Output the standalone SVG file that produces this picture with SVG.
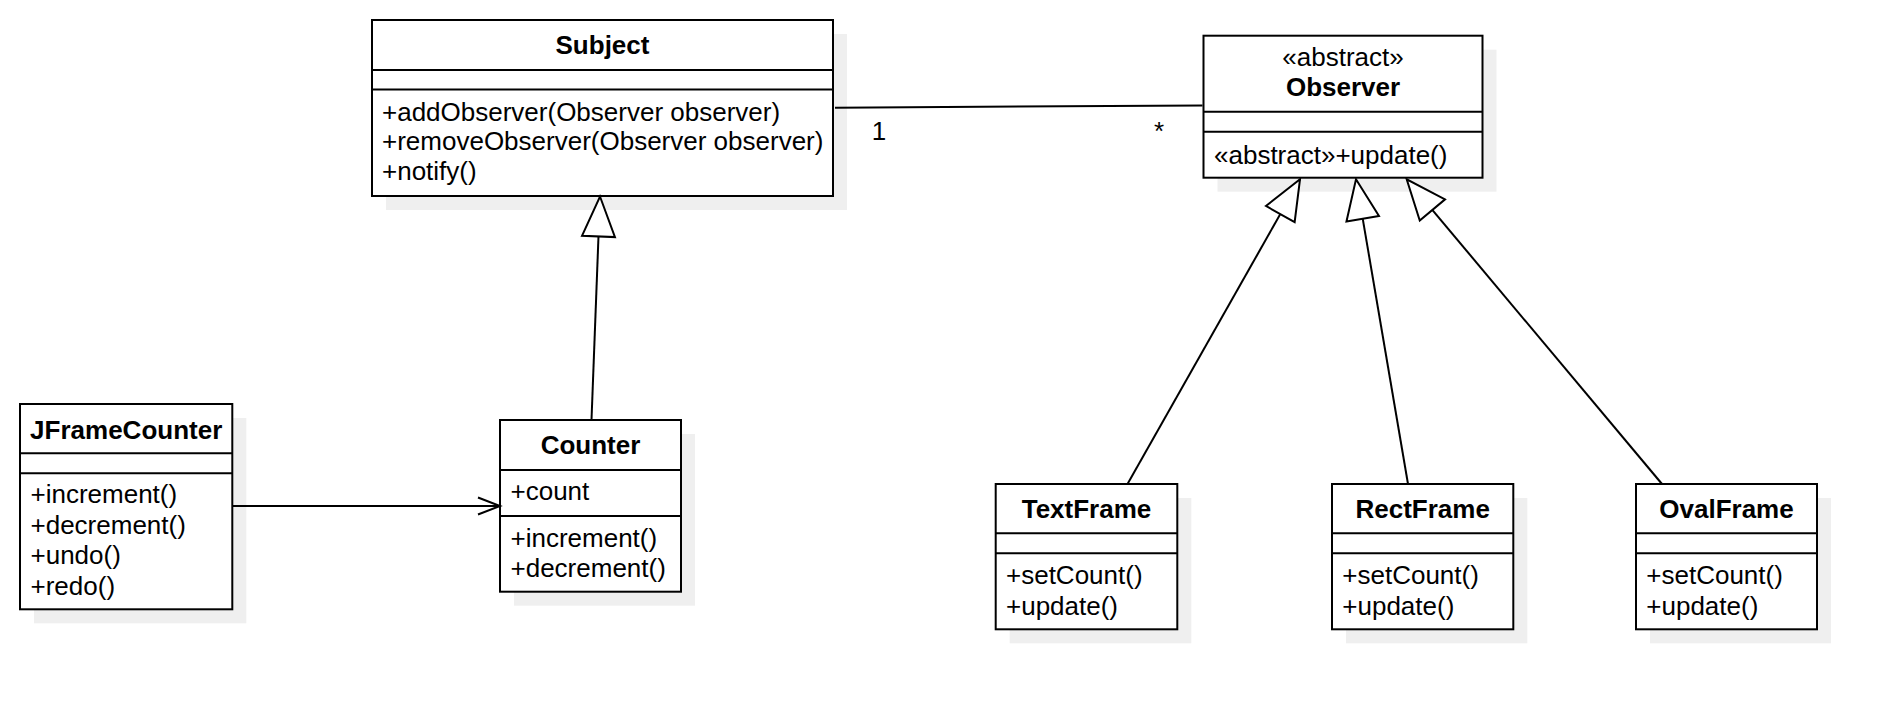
<svg xmlns="http://www.w3.org/2000/svg" width="1898" height="710" viewBox="0 0 1898 710">
  <style>
    .shadow { fill: #efefef; }
    .box { fill: #ffffff; stroke: #000000; stroke-width: 2; }
    .sep { stroke: #000000; stroke-width: 2; }
    .t { font-family: "Liberation Sans", Arial, Helvetica, sans-serif; font-size: 26px; fill: #000000; }
    .title { font-weight: bold; text-anchor: middle; }
    .stereo { text-anchor: middle; }
    .mult { text-anchor: middle; }
    .edge { fill: none; stroke: #000000; stroke-width: 2; }
  </style>
  <defs>
    <!-- hollow triangle for generalization -->
    <marker id="inherit" markerUnits="userSpaceOnUse" viewBox="0 0 48 40" refX="44" refY="20" markerWidth="48" markerHeight="40" orient="auto">
      <path d="M4,3.5 L44,20 L4,36.5 Z" fill="#ffffff" stroke="#000000" stroke-width="2"/>
    </marker>
    <!-- open arrowhead for navigable association -->
    <marker id="open" markerUnits="userSpaceOnUse" viewBox="0 0 28 22" refX="23" refY="11" markerWidth="28" markerHeight="22" orient="auto">
      <path d="M1,2.5 L23,11 L1,19.5" fill="none" stroke="#000000" stroke-width="2"/>
    </marker>
  </defs>

  <!-- Subject -->
  <g id="subject">
    <rect class="shadow" x="386" y="34" width="461" height="176"/>
    <rect class="box" x="372" y="20" width="461" height="176"/>
    <line class="sep" x1="372" y1="70" x2="833" y2="70"/>
    <line class="sep" x1="372" y1="89.5" x2="833" y2="89.5"/>
    <text class="t title" x="602.5" y="54">Subject</text>
    <text class="t" x="382" y="120.5">+addObserver(Observer observer)</text>
    <text class="t" x="382" y="150">+removeObserver(Observer observer)</text>
    <text class="t" x="382" y="179.5">+notify()</text>
  </g>

  <!-- Observer -->
  <g id="observer">
    <rect class="shadow" x="1217.5" y="49.7" width="279" height="142"/>
    <rect class="box" x="1203.5" y="35.7" width="279" height="142"/>
    <line class="sep" x1="1203.5" y1="111.7" x2="1482.5" y2="111.7"/>
    <line class="sep" x1="1203.5" y1="131.7" x2="1482.5" y2="131.7"/>
    <text class="t stereo" x="1343" y="65.7">«abstract»</text>
    <text class="t title" x="1343" y="95.7">Observer</text>
    <text class="t" x="1214" y="164">«abstract»+update()</text>
  </g>

  <!-- JFrameCounter -->
  <g id="jframecounter">
    <rect class="shadow" x="34" y="418" width="212.3" height="205.3"/>
    <rect class="box" x="20" y="404" width="212.3" height="205.3"/>
    <line class="sep" x1="20" y1="453.3" x2="232.3" y2="453.3"/>
    <line class="sep" x1="20" y1="473.3" x2="232.3" y2="473.3"/>
    <text class="t title" x="126.2" y="439">JFrameCounter</text>
    <text class="t" x="30.5" y="503">+increment()</text>
    <text class="t" x="30.5" y="533.5">+decrement()</text>
    <text class="t" x="30.5" y="564">+undo()</text>
    <text class="t" x="30.5" y="594.5">+redo()</text>
  </g>

  <!-- Counter -->
  <g id="counter">
    <rect class="shadow" x="514" y="434" width="181" height="171.7"/>
    <rect class="box" x="500" y="420" width="181" height="171.7"/>
    <line class="sep" x1="500" y1="470" x2="681" y2="470"/>
    <line class="sep" x1="500" y1="516" x2="681" y2="516"/>
    <text class="t title" x="590.5" y="454">Counter</text>
    <text class="t" x="510.5" y="500">+count</text>
    <text class="t" x="510.5" y="546.5">+increment()</text>
    <text class="t" x="510.5" y="577">+decrement()</text>
  </g>

  <!-- TextFrame -->
  <g id="textframe">
    <rect class="shadow" x="1009.7" y="498" width="181.6" height="145.3"/>
    <rect class="box" x="995.7" y="484" width="181.6" height="145.3"/>
    <line class="sep" x1="995.7" y1="533.3" x2="1177.3" y2="533.3"/>
    <line class="sep" x1="995.7" y1="553.3" x2="1177.3" y2="553.3"/>
    <text class="t title" x="1086.5" y="518">TextFrame</text>
    <text class="t" x="1006" y="584">+setCount()</text>
    <text class="t" x="1006" y="614.5">+update()</text>
  </g>

  <!-- RectFrame -->
  <g id="rectframe">
    <rect class="shadow" x="1346" y="498" width="181.3" height="145.3"/>
    <rect class="box" x="1332" y="484" width="181.3" height="145.3"/>
    <line class="sep" x1="1332" y1="533.3" x2="1513.3" y2="533.3"/>
    <line class="sep" x1="1332" y1="553.3" x2="1513.3" y2="553.3"/>
    <text class="t title" x="1422.7" y="518">RectFrame</text>
    <text class="t" x="1342.3" y="584">+setCount()</text>
    <text class="t" x="1342.3" y="614.5">+update()</text>
  </g>

  <!-- OvalFrame -->
  <g id="ovalframe">
    <rect class="shadow" x="1650" y="498" width="181" height="145.3"/>
    <rect class="box" x="1636" y="484" width="181" height="145.3"/>
    <line class="sep" x1="1636" y1="533.3" x2="1817" y2="533.3"/>
    <line class="sep" x1="1636" y1="553.3" x2="1817" y2="553.3"/>
    <text class="t title" x="1726.5" y="518">OvalFrame</text>
    <text class="t" x="1646.3" y="584">+setCount()</text>
    <text class="t" x="1646.3" y="614.5">+update()</text>
  </g>

  <!-- connectors, painted above the class boxes and their shadows -->
  <g id="connectors">
    <line class="edge" x1="835" y1="107.7" x2="1202.5" y2="105.5"/>
    <text class="t mult" x="879" y="140">1</text>
    <text class="t mult" x="1159" y="140">*</text>
    <line class="edge" x1="591.5" y1="420" x2="600" y2="196.5" marker-end="url(#inherit)"/>
    <line class="edge" x1="1127.5" y1="484" x2="1300" y2="179.3" marker-end="url(#inherit)"/>
    <line class="edge" x1="1408" y1="484" x2="1356" y2="179.3" marker-end="url(#inherit)"/>
    <line class="edge" x1="1662" y1="484" x2="1406.7" y2="179.3" marker-end="url(#inherit)"/>
    <line class="edge" x1="233" y1="506" x2="500" y2="506" marker-end="url(#open)"/>
  </g>
</svg>
